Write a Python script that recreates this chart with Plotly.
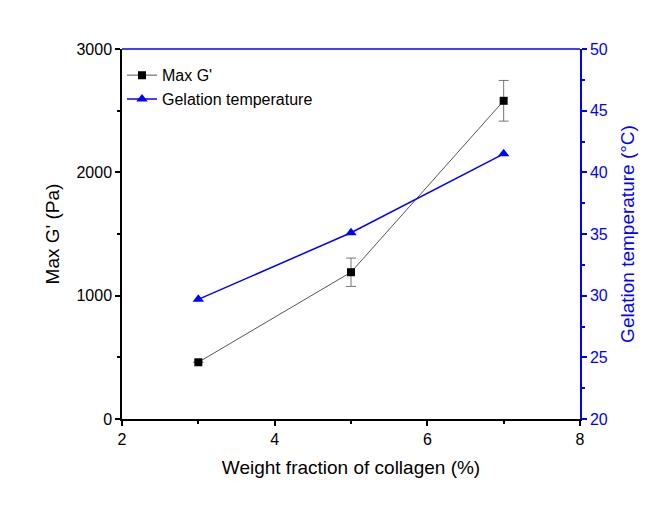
import plotly.graph_objects as go

collagen = [3, 5, 7]
max_g = [460, 1190, 2580]
max_g_err = [0, 115, 165]
gel_temp = [29.7, 35.1, 41.5]

FONT = "Liberation Sans, Arial, sans-serif"

fig = go.Figure()
fig.add_trace(go.Scatter(
    x=collagen, y=max_g, name="Max G'", mode="lines+markers",
    line=dict(color="#555555", width=1),
    marker=dict(symbol="square", size=8, color="black"),
    error_y=dict(type="data", array=max_g_err, visible=True, color="#777777", thickness=1, width=5),
))
fig.add_trace(go.Scatter(
    x=collagen, y=gel_temp, name="Gelation temperature", mode="lines+markers",
    line=dict(color="#0000ff", width=1.5),
    marker=dict(symbol="triangle-up", size=10, color="#0000ff"),
    yaxis="y2",
))

fig.update_layout(
    width=659, height=508,
    margin=dict(l=122, r=79, t=49, b=89),
    paper_bgcolor="white", plot_bgcolor="white",
    font=dict(family=FONT, size=16, color="black"),
    showlegend=True,
    legend=dict(x=0.0, y=0.975, xanchor="left", yanchor="top",
                bgcolor="rgba(0,0,0,0)", font=dict(size=16), tracegroupgap=0, itemwidth=30),
    xaxis=dict(range=[2, 8], tickvals=[2, 4, 6, 8], showgrid=False, zeroline=False,
               showline=True, linecolor="black", linewidth=1.5,
               ticks="outside", ticklen=5, tickwidth=1.5, tickcolor="black",
               tickfont=dict(size=16),
               minor=dict(dtick=1, ticks="outside", ticklen=3, tickcolor="black", tickwidth=1.5),
               title=dict(text="Weight fraction of collagen (%)", font=dict(size=19), standoff=14)),
    yaxis=dict(range=[0, 3000], tickvals=[0, 1000, 2000, 3000], showgrid=False, zeroline=False,
               showline=True, linecolor="black", linewidth=1.5,
               ticks="outside", ticklen=5, tickwidth=1.5, tickcolor="black",
               tickfont=dict(size=16),
               minor=dict(dtick=500, ticks="outside", ticklen=3, tickcolor="black", tickwidth=1.5),
               title=dict(text="Max G' (Pa)", font=dict(size=19), standoff=12)),
    yaxis2=dict(range=[20, 50], tickvals=[20, 25, 30, 35, 40, 45, 50], overlaying="y", side="right",
                showgrid=False, zeroline=False,
                showline=True, linecolor="#0000ff", linewidth=1.5,
                ticks="outside", ticklen=5, tickwidth=1.5, tickcolor="#0000ff",
                tickfont=dict(color="#0000ff", size=16),
                minor=dict(dtick=2.5, ticks="outside", ticklen=3, tickcolor="#0000ff", tickwidth=1.5),
                title=dict(text="Gelation temperature (°C)", font=dict(size=19, color="#0000ff"), standoff=14)),
    shapes=[dict(type="line", xref="paper", yref="paper", x0=0, x1=1, y0=1, y1=1,
                 line=dict(color="#0000ff", width=1.5))],
)

fig.write_html("out.html")
